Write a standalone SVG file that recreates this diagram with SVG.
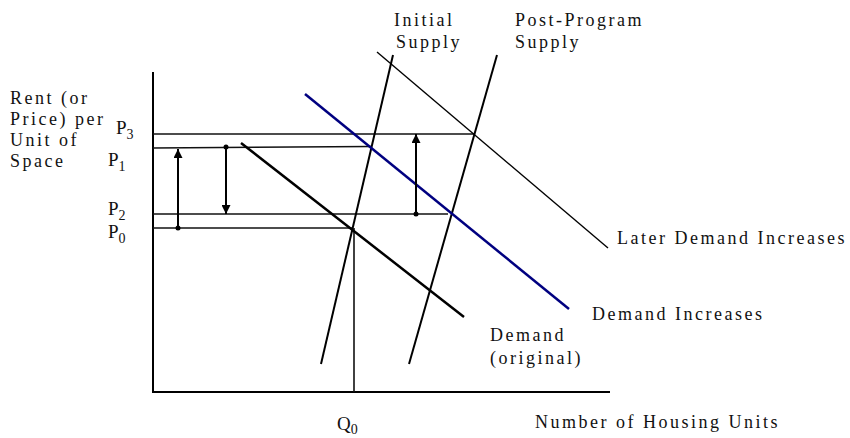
<svg xmlns="http://www.w3.org/2000/svg" width="850" height="438" viewBox="0 0 850 438">
<style>
text{font-family:"Liberation Serif","Times New Roman",serif;font-size:18px;fill:#111;letter-spacing:2.5px}
.pl{font-size:19px;letter-spacing:0}
.sub{font-size:14px;letter-spacing:0}
.ax{stroke:#000;stroke-width:2;fill:none}
.h{stroke:#111;stroke-width:1.6;fill:none}
.s{stroke:#000;stroke-width:2;fill:none}
.d{stroke:#000;stroke-width:2.5;fill:none}
.ld{stroke:#000;stroke-width:1.4;fill:none}
.blue{stroke:#000080;stroke-width:2.5;fill:none}
.arr{stroke:#000;stroke-width:2;fill:none;marker-end:url(#ah)}
.dot{fill:#000}
</style>
<defs>
<marker id="ah" viewBox="0 0 10 10" refX="10" refY="5" markerWidth="10" markerHeight="9" markerUnits="userSpaceOnUse" orient="auto">
<path d="M0,0 L10,5 L0,10 Z" fill="#000"/>
</marker>
</defs>
<g id="axes">
<line class="ax" x1="153" y1="72" x2="153" y2="393"/>
<line class="ax" x1="152" y1="392" x2="610" y2="392"/>
</g>
<g id="axis-labels">
<text x="10" y="104">Rent (or</text>
<text x="10" y="125">Price) per</text>
<text x="10" y="146">Unit of</text>
<text x="10" y="167">Space</text>
<text x="535" y="428">Number of Housing Units</text>
</g>
<g id="price-labels">
<text class="pl" x="116" y="134">P<tspan class="sub" dy="5">3</tspan></text>
<text class="pl" x="108" y="166">P<tspan class="sub" dy="5">1</tspan></text>
<text class="pl" x="108" y="215">P<tspan class="sub" dy="5">2</tspan></text>
<text class="pl" x="108" y="238">P<tspan class="sub" dy="5">0</tspan></text>
<text class="pl" x="337" y="430">Q<tspan class="sub" dy="4">0</tspan></text>
</g>
<g id="levels">
<line class="h" x1="153" y1="134" x2="475" y2="134"/>
<line class="h" x1="153" y1="148" x2="371" y2="146.5"/>
<line class="h" x1="153" y1="214" x2="448" y2="214"/>
<line class="h" x1="153" y1="228" x2="353" y2="228"/>
<line class="h" x1="354" y1="228" x2="354" y2="392"/>
</g>
<g id="initial-supply">
<line class="s" x1="393" y1="55" x2="321" y2="364"/>
<text x="394" y="26">Initial</text>
<text x="396" y="48">Supply</text>
</g>
<g id="post-program-supply">
<line class="s" x1="497" y1="55" x2="409" y2="364"/>
<text x="515" y="26">Post-Program</text>
<text x="515" y="48">Supply</text>
</g>
<g id="demand-original">
<line class="d" x1="241" y1="143" x2="464" y2="317"/>
<text x="490" y="341">Demand</text>
<text x="490" y="364">(original)</text>
</g>
<g id="demand-increases">
<line class="blue" x1="305" y1="94" x2="569" y2="309"/>
<text x="592" y="320">Demand Increases</text>
</g>
<g id="later-demand">
<line class="ld" x1="377" y1="52" x2="608" y2="248"/>
<text x="617" y="244">Later Demand Increases</text>
</g>
<g id="connectors">
<line class="arr" x1="178" y1="228" x2="178" y2="149"/>
<circle class="dot" cx="178" cy="228" r="2.5"/>
<line class="arr" x1="226" y1="147" x2="226" y2="214"/>
<circle class="dot" cx="226" cy="147" r="2.5"/>
<line class="arr" x1="416" y1="214" x2="416" y2="134"/>
<circle class="dot" cx="416" cy="214" r="2.5"/>
</g>
</svg>
